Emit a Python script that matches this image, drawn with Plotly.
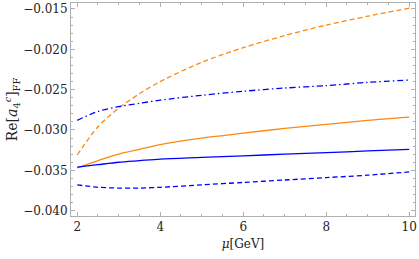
import plotly.graph_objects as go

mu = [2, 2.5, 3, 3.5, 4, 5, 6, 7, 8, 9, 10]

orange_dashed = [-0.0331, -0.0296, -0.0273, -0.0255, -0.0240, -0.0216, -0.0198, -0.0183, -0.0170, -0.0159, -0.0149]
blue_dashdot = [-0.0288, -0.0277, -0.0271, -0.0267, -0.0263, -0.0257, -0.0252, -0.0248, -0.0245, -0.0241, -0.0238]
orange_solid = [-0.0347, -0.0338, -0.0330, -0.0324, -0.0318, -0.0310, -0.0304, -0.0298, -0.0293, -0.0288, -0.0284]
blue_solid = [-0.0346, -0.0343, -0.0340, -0.0338, -0.0336, -0.0334, -0.0332, -0.0330, -0.0328, -0.0326, -0.0324]
blue_dashed = [-0.0368, -0.0371, -0.0372, -0.0372, -0.0371, -0.0368, -0.0365, -0.0362, -0.0359, -0.0356, -0.0352]

x_ticks = [2, 4, 6, 8, 10]
y_ticks = [-0.040, -0.035, -0.030, -0.025, -0.020, -0.015]
y_tick_labels = ["\u22120.040", "\u22120.035", "\u22120.030", "\u22120.025", "\u22120.020", "\u22120.015"]

ORANGE = "rgb(255,135,15)"
BLUE = "rgb(0,0,255)"

fig = go.Figure()
series = [
    (orange_dashed, ORANGE, "5px,3px"),
    (blue_dashdot, BLUE, "6px,3px,1.5px,3px"),
    (orange_solid, ORANGE, "solid"),
    (blue_solid, BLUE, "solid"),
    (blue_dashed, BLUE, "5px,3px"),
]
for ys, col, dash in series:
    fig.add_trace(go.Scatter(x=mu, y=ys, mode="lines",
                             line=dict(color=col, width=1.3, dash=dash, shape="spline", smoothing=0.8),
                             showlegend=False, hoverinfo="skip"))

frame = "rgb(175,175,175)"
font = dict(family="DejaVu Serif", size=12, color="#222")

fig.update_layout(
    width=419, height=259,
    margin=dict(l=71, r=2, t=3, b=43),
    plot_bgcolor="white", paper_bgcolor="white",
    font=font,
    xaxis=dict(range=[1.85, 10.14], showgrid=False, zeroline=False,
               showline=True, linecolor=frame, linewidth=1, mirror="allticks",
               ticks="inside", ticklen=4, tickcolor=frame, tickwidth=1,
               tickvals=x_ticks, ticktext=[str(v) for v in x_ticks],
               ticklabeloverflow="allow",
               minor=dict(dtick=0.5, ticks="inside", ticklen=2, tickcolor=frame, tickwidth=1, showgrid=False),
               title=dict(text="<i>\u03bc</i>[GeV]", font=dict(family="DejaVu Serif", size=12, color="#222"), standoff=6)),
    yaxis=dict(range=[-0.04066, -0.01426], showgrid=False, zeroline=False,
               showline=True, linecolor=frame, linewidth=1, mirror="allticks",
               ticks="inside", ticklen=4, tickcolor=frame, tickwidth=1,
               tickvals=y_ticks, ticktext=y_tick_labels,
               ticklabeloverflow="allow",
               minor=dict(dtick=0.001, ticks="inside", ticklen=2, tickcolor=frame, tickwidth=1, showgrid=False),
               title=dict(text="Re[<i>a</i><sub>4</sub><sup><i>c</i></sup>]<sub>FF</sub>",
                          font=dict(family="DejaVu Serif", size=14, color="#222"), standoff=2)),
)

fig.write_html("out.html", config={"displayModeBar": False},
               post_script="document.body.style.margin='0px';")
